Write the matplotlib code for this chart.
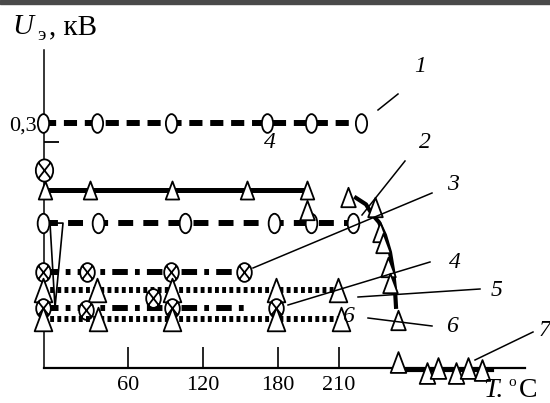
import matplotlib
matplotlib.use('Agg')
import matplotlib.pyplot as plt
from matplotlib.path import Path
from matplotlib.transforms import Affine2D
from matplotlib.patches import Rectangle

plt.rcParams['font.family'] = ['Liberation Serif', 'DejaVu Serif']

# ---- data (T in degC, U in kV) ----
c1_T = [-8, 35, 94, 171, 206, 246]
c1_U = [0.300] * 6

c2_T = [-6.4, 29.6, 95.2, 155, 203]
c2_U = [0.218] * 5
c2_drop_T = [203, 236, 257.6, 261.6, 264, 268, 269.6, 276]
c2_drop_U = [0.193, 0.209, 0.197, 0.166, 0.153, 0.123, 0.103, 0.058]
drop_T = [242.4, 250.4, 255.2, 260.8, 265.6, 269.6, 272, 273.6, 274.4]
drop_U = [0.208, 0.200, 0.188, 0.178, 0.162, 0.141, 0.119, 0.095, 0.074]

c3_T = [-8, 36, 105.6, 176.8, 206.4, 240]
c3_U = [0.177] * 6
x_top_T = [-7.2]
x_top_U = [0.242]

c4_T = [-8, 27, 94, 153]
c4_U = [0.117] * 4

c5_T = [-8, 35, 95, 178, 228]
c5_U = [0.095] * 5

c4b_T = [-8, 26, 80, 95, 178]
c4b_U = [0.073, 0.070, 0.085, 0.073, 0.073]
c4b_line_T = [-8, 155]

c6_T = [-8, 36, 95, 178, 230]
c6_U = [0.059] * 5

c7_T = [276, 299, 308, 322, 332, 343]
c7_U = [0.006, -0.007, -0.001, -0.007, -0.001, -0.004]
c7_line_T = [275, 351]
c7_line_U = [-0.004, -0.004]

v_T = [-2.4, 8, 1.6, -2.4]
v_U = [0.177, 0.177, 0.073, 0.177]

tick_pos = [60, 120, 180, 228.8]
tick_labels = ['60', '120', '180', '210']

# ---- markers ----
ell = Affine2D().scale(0.6, 1.0).transform_path(Path.unit_circle())
ell2 = Affine2D().scale(0.78, 1.0).transform_path(Path.unit_circle())
k = 0.707
xl = Path([(-0.78 * k, -k), (0.78 * k, k), (-0.78 * k, k), (0.78 * k, -k)],
          [Path.MOVETO, Path.LINETO, Path.MOVETO, Path.LINETO])
otimes = Path.make_compound_path(ell2, xl)
tri = Path([(0, 1), (-0.75, -1), (0.75, -1), (0, 1)],
           [Path.MOVETO, Path.LINETO, Path.LINETO, Path.CLOSEPOLY])

fig = plt.figure(figsize=(5.5, 4.03), dpi=100)
ax = fig.add_axes([0, 0, 1, 1])
ax.set_xlim(-42.4, 397.6)
ax.set_ylim(-0.0443, 0.4514)

mk = dict(mfc='white', mec='black', mew=1.3, color='black')

ax.plot(c1_T, c1_U, lw=4.3, dashes=(2.2, 1.3), marker=ell, ms=13.5, zorder=3, **mk)
ax.plot(c2_T, c2_U, lw=3.6, marker=tri, ms=13, zorder=3, **mk)
ax.plot(c2_drop_T, c2_drop_U, ls='none', marker=tri, ms=14, zorder=4, **mk)
ax.plot(drop_T, drop_U, lw=3, color='black', zorder=3.5)
ax.plot(c3_T, c3_U, lw=4.3, dashes=(2.5, 1.7), marker=ell, ms=14, zorder=3, **mk)
ax.plot(x_top_T, x_top_U, ls='none', marker=otimes, ms=16, zorder=3, **mk)
ax.plot(c4_T, c4_U, lw=4.3, dashes=(2.6, 1.2, 0.8, 1.2), marker=otimes, ms=13.5, zorder=3, **mk)
ax.plot(c5_T, c5_U, lw=4.3, dashes=(0.65, 0.55), marker=tri, ms=17, zorder=3, **mk)
ax.plot(c4b_line_T, [0.073, 0.073], lw=4.3, dashes=(2.6, 1.2, 0.8, 1.2), color='black', zorder=2)
ax.plot(c4b_T, c4b_U, ls='none', marker=otimes, ms=13.5, zorder=3, **mk)
ax.plot(c6_T, c6_U, lw=4.3, dashes=(0.65, 0.55), marker=tri, ms=17, zorder=3, **mk)
ax.plot(c7_line_T, c7_line_U, lw=3, color='black', zorder=2)
ax.plot(c7_T, c7_U, ls='none', marker=tri, ms=15, zorder=3, **mk)
ax.plot(v_T, v_U, lw=1.2, color='black', zorder=2.5)

# axes
for s in ['top', 'right']:
    ax.spines[s].set_visible(False)
ax.spines['left'].set_position(('data', -7.2))
ax.spines['left'].set_bounds(-0.001, 0.39)
ax.spines['left'].set_linewidth(1.1)
ax.spines['bottom'].set_position(('data', -0.001))
ax.spines['bottom'].set_bounds(-7.2, 377.6)
ax.spines['bottom'].set_linewidth(1.6)
ax.set_xticks(tick_pos)
ax.set_xticklabels(tick_labels)
ax.tick_params(axis='x', direction='in', length=15, width=1.2, pad=6, labelsize=16)
ax.set_yticks([0.3])
ax.set_yticklabels(['0,3'])
ax.set_yticks([0.277], minor=True)
ax.tick_params(axis='y', which='major', length=0, pad=5, labelsize=16)
ax.tick_params(axis='y', which='minor', direction='in', length=11, width=1.3)

# annotations, in pixel positions of the 550x403 canvas
def px(x, y):
    return x / 550, 1 - y / 403

leaders = [((378, 110), (398, 94)), ((405, 161), (362, 215)),
           ((432, 193), (253, 268)), ((430, 262), (288, 305)),
           ((480, 289), (358, 297)), ((432, 326), (368, 318)),
           ((533, 332), (475, 360))]
for a, b in leaders:
    (x0, y0), (x1, y1) = px(*a), px(*b)
    ax.plot([x0, x1], [y0, y1], transform=ax.transAxes, color='black', lw=1.1, zorder=5)

labels = [('1', 420, 67), ('2', 425, 142), ('3', 453, 185), ('4', 455, 262),
          ('5', 497, 290), ('6', 452, 327), ('7', 545, 330),
          ('4', 270, 143), ('6', 348, 316)]
for t, x, y in labels:
    ax.text(*px(x, y), t, transform=ax.transAxes, fontsize=17, style='italic',
            ha='center', va='center', zorder=6)

ax.text(*px(23, 27), 'U', transform=ax.transAxes, fontsize=21, style='italic', ha='center', va='center')
ax.text(*px(42, 35), 'э', transform=ax.transAxes, fontsize=14, ha='center', va='center')
ax.text(*px(49, 27), ', кВ', transform=ax.transAxes, fontsize=21, ha='left', va='center')
ax.text(*px(483, 397), 'T.', transform=ax.transAxes, fontsize=20, style='italic', ha='left', va='baseline')
ax.text(*px(512, 382), 'o', transform=ax.transAxes, fontsize=11, ha='center', va='center')
ax.text(*px(519, 397), 'C', transform=ax.transAxes, fontsize=20, ha='left', va='baseline')

fig.patches.append(Rectangle((0, 1 - 4 / 403), 1, 4 / 403, transform=fig.transFigure,
                             color='#4a4a4a', zorder=10))

fig.savefig('out.png', dpi=100)
